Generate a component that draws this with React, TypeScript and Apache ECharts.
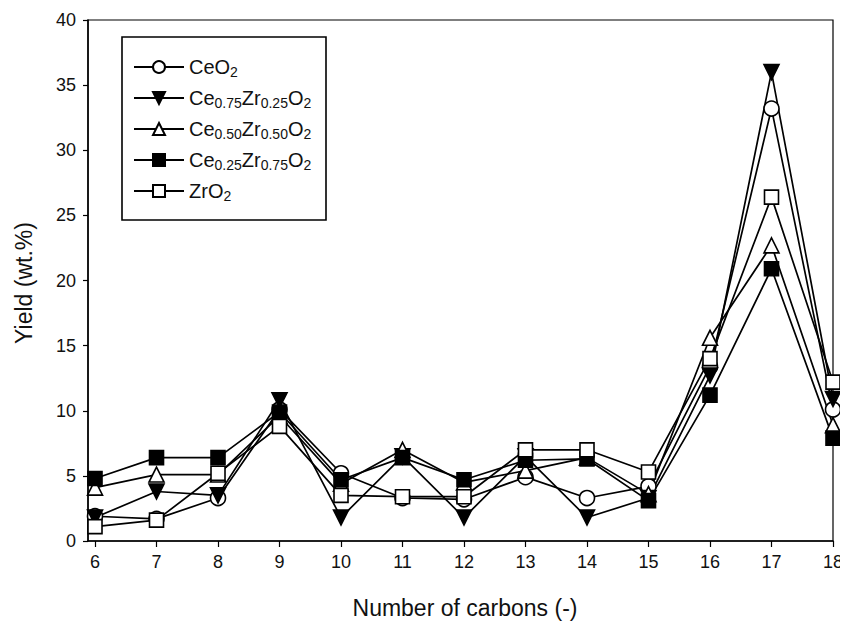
import React, { useEffect, useRef } from "react";
import * as echarts from "echarts";

const carbons = [6, 7, 8, 9, 10, 11, 12, 13, 14, 15, 16, 17, 18];
const xTicks = [6, 7, 8, 9, 10, 11, 12, 13, 14, 15, 16, 17, 18];

const ceo2 = [1.9, 1.7, 3.3, 10.1, 5.2, 3.3, 3.2, 4.9, 3.3, 4.2, 13.4, 33.2, 10.1];
const ce075 = [1.8, 3.8, 3.5, 10.8, 1.8, 6.5, 1.8, 6.5, 1.8, 3.3, 12.7, 36.0, 10.9];
const ce050 = [4.1, 5.1, 5.1, 9.6, 4.4, 7.0, 4.5, 5.4, 6.4, 3.6, 15.6, 22.7, 8.9];
const ce025 = [4.8, 6.4, 6.4, 9.9, 4.7, 6.4, 4.7, 6.2, 6.3, 3.1, 11.2, 20.9, 7.9];
const zro2 = [1.1, 1.6, 5.2, 8.8, 3.5, 3.4, 3.4, 7.0, 7.0, 5.3, 14.0, 26.4, 12.2];

const seriesNames = ["CeO2", "Ce0.75Zr0.25O2", "Ce0.50Zr0.50O2", "Ce0.25Zr0.75O2", "ZrO2"];
const legendRich: Record<string, string> = {
  CeO2: "CeO{s|2}",
  "Ce0.75Zr0.25O2": "Ce{s|0.75}Zr{s|0.25}O{s|2}",
  "Ce0.50Zr0.50O2": "Ce{s|0.50}Zr{s|0.50}O{s|2}",
  "Ce0.25Zr0.75O2": "Ce{s|0.25}Zr{s|0.75}O{s|2}",
  ZrO2: "ZrO{s|2}",
};

const FONT = "'Liberation Sans', Arial, sans-serif";
const DOWN_TRI = "path://M0,0L20,0L10,18Z";

export default function App() {
  const ref = useRef<HTMLDivElement>(null);
  useEffect(() => {
    if (!ref.current) return;
    const chart = echarts.init(ref.current, undefined, { renderer: "svg" });
    const mk = (name: string, data: number[], symbol: string, filled: boolean, size: number) => ({
      name,
      type: "line",
      data: carbons.map((c, i) => [c, data[i]]),
      symbol,
      symbolSize: size,
      showAllSymbol: true,
      lineStyle: { color: "#000", width: 1.7 },
      itemStyle: { color: filled ? "#000" : "#fff", borderColor: "#000", borderWidth: 1.6 },
      emphasis: { disabled: true },
    });
    chart.setOption({
      animation: false,
      backgroundColor: "#fff",
      grid: {
        left: 88,
        top: 20,
        width: 745,
        height: 521,
        show: true,
        borderColor: "#000",
        borderWidth: 1.2,
        backgroundColor: "transparent",
      },
      xAxis: {
        type: "value",
        min: 5.886,
        max: 18,
        axisLine: { onZero: false, lineStyle: { color: "#000", width: 1.5 } },
        axisTick: { show: true, length: 6, customValues: xTicks, lineStyle: { color: "#000", width: 1.2 } },
        axisLabel: { customValues: xTicks, margin: 12, fontSize: 18, color: "#111", fontFamily: FONT },
        splitLine: { show: false },
      },
      yAxis: {
        type: "value",
        min: 0,
        max: 40,
        interval: 5,
        axisLine: { show: true, lineStyle: { color: "#000", width: 1.5 } },
        axisTick: { show: true, length: 5, lineStyle: { color: "#000", width: 1.2 } },
        axisLabel: { margin: 12, fontSize: 18, color: "#111", fontFamily: FONT },
        splitLine: { show: false },
      },
      legend: {
        orient: "vertical",
        left: 133,
        top: 55,
        padding: 0,
        itemGap: 7,
        itemWidth: 50,
        itemHeight: 15,
        data: seriesNames,
        formatter: (n: string) => legendRich[n] || n,
        textStyle: {
          fontFamily: FONT,
          fontSize: 20,
          color: "#111",
          lineHeight: 24,
          rich: {
            s: { fontFamily: FONT, fontSize: 14, color: "#111", lineHeight: 24, verticalAlign: "bottom" },
          },
        },
      },
      graphic: [
        {
          type: "rect",
          shape: { x: 122, y: 37, width: 204, height: 183 },
          style: { fill: "none", stroke: "#000", lineWidth: 1.6 },
          z: 10,
        },
        {
          type: "text",
          x: 24,
          y: 283,
          rotation: Math.PI / 2,
          style: {
            text: "Yield (wt.%)",
            fontFamily: FONT,
            fontSize: 23,
            fill: "#111",
            textAlign: "center",
            textVerticalAlign: "middle",
          },
        },
        {
          type: "text",
          x: 465,
          y: 608,
          style: {
            text: "Number of carbons (-)",
            fontFamily: FONT,
            fontSize: 23,
            fill: "#111",
            textAlign: "center",
            textVerticalAlign: "middle",
          },
        },
      ],
      series: [
        mk(seriesNames[0], ceo2, "circle", false, 15),
        mk(seriesNames[1], ce075, DOWN_TRI, true, 15),
        mk(seriesNames[2], ce050, "triangle", false, 15),
        mk(seriesNames[3], ce025, "rect", true, 14),
        mk(seriesNames[4], zro2, "rect", false, 14),
      ],
    });
    return () => chart.dispose();
  }, []);
  return <div ref={ref} style={{ width: 848, height: 631, margin: -8 }} />;
}
